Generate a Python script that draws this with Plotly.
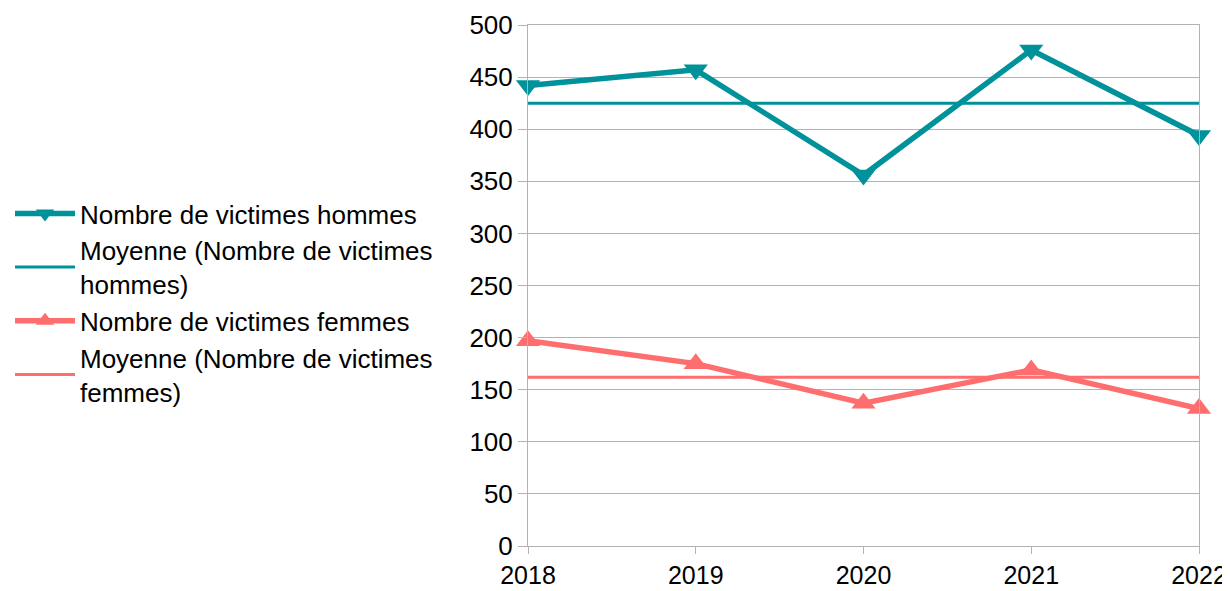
import plotly.graph_objects as go
import numpy as np

years = [2018, 2019, 2020, 2021, 2022]
hommes = [442, 457, 356, 476, 394]
femmes = [197, 175, 137, 169, 132]
y_ticks = [0, 50, 100, 150, 200, 250, 300, 350, 400, 450, 500]

teal = "#00929a"
pink = "#ff6e6e"
font = "Liberation Sans, Arial, sans-serif"

moy_h = [float(np.mean(hommes))] * len(years)
moy_f = [float(np.mean(femmes))] * len(years)

W, H = 1222, 583

fig = go.Figure()
fig.add_trace(go.Scatter(x=years, y=hommes, mode="lines+markers",
                         name="Nombre de victimes hommes",
                         line=dict(color=teal, width=5.5),
                         marker=dict(symbol="triangle-down", size=21, color=teal),
                         cliponaxis=False))
fig.add_trace(go.Scatter(x=years, y=moy_h, mode="lines",
                         name="Moyenne (Nombre de victimes<br>hommes)",
                         line=dict(color=teal, width=3), cliponaxis=False))
fig.add_trace(go.Scatter(x=years, y=femmes, mode="lines+markers",
                         name="Nombre de victimes femmes",
                         line=dict(color=pink, width=5.5),
                         marker=dict(symbol="triangle-up", size=21, color=pink),
                         cliponaxis=False))
fig.add_trace(go.Scatter(x=years, y=moy_f, mode="lines",
                         name="Moyenne (Nombre de victimes<br>femmes)",
                         line=dict(color=pink, width=3), cliponaxis=False))

fig.update_layout(
    width=W, height=H,
    margin=dict(l=520, r=31, t=17, b=45, autoexpand=False),
    paper_bgcolor="white", plot_bgcolor="white",
    font=dict(family=font, size=26, color="black"),
    legend=dict(xref="container", yref="container", x=2 / W, y=1 - 182 / H,
                xanchor="left", yanchor="top", font=dict(size=26),
                tracegroupgap=0, itemwidth=60, bgcolor="rgba(0,0,0,0)"),
    showlegend=True,
)
fig.update_xaxes(range=[2018, 2022], tickvals=years, ticktext=[str(y) for y in years],
                 showgrid=False, showline=True, linecolor="#b3b3b3", linewidth=1,
                 mirror=True, ticks="outside", ticklen=7, tickcolor="#b3b3b3",
                 zeroline=False, tickfont=dict(size=25), automargin=False)
fig.update_yaxes(range=[0, 500], tickvals=y_ticks, showgrid=True, gridcolor="#b3b3b3",
                 gridwidth=1, showline=True, linecolor="#b3b3b3", linewidth=1,
                 mirror=True, ticks="outside", ticklen=9, tickcolor="#b3b3b3",
                 zeroline=False, tickfont=dict(size=26), automargin=False)

fig.write_html("out.html")
